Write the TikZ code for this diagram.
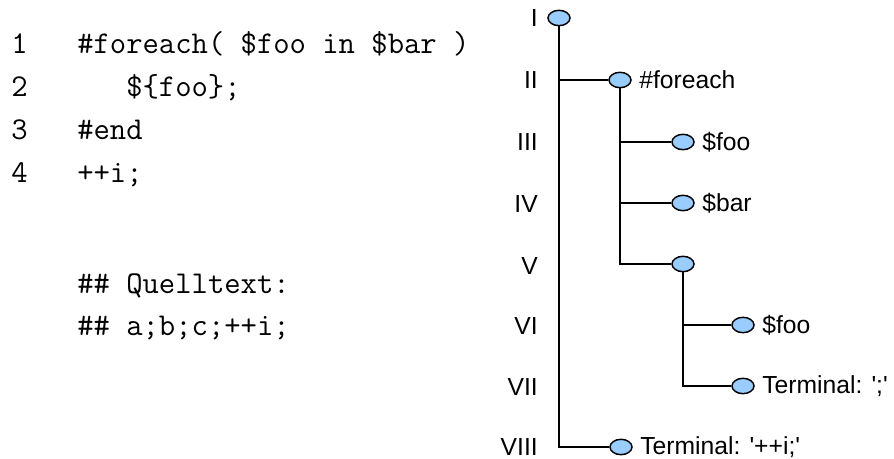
\documentclass[tikz,border=0pt]{standalone}
\usepackage{fontspec}
\newfontfamily\treefont{Liberation Sans}
\usetikzlibrary{shapes.geometric,positioning}
\definecolor{knotblau}{RGB}{153,204,255}
\tikzset{
  knoten/.style={ellipse,draw=black,fill=knotblau,line width=1.1pt,
    minimum width=16.5pt,minimum height=11.5pt,inner sep=0pt},
  kante/.style={line width=1.1pt},
  etikett/.style={font=\treefont\fontsize{18.5}{21}\selectfont,inner sep=1.5pt},
  ebene/.style={font=\treefont\fontsize{18.5}{21}\selectfont,anchor=east,inner sep=0pt},
  code/.style={font=\ttfamily\fontsize{23.8}{28}\selectfont,anchor=base west,inner sep=0pt}
}
\begin{document}
\begin{tikzpicture}[x=0.75pt,y=-0.75pt]
  \useasboundingbox (0,0) rectangle (894,459);
  % Quelltext links
  \node[code] (nr1) at (11,54) {1};
  \node[code] (nr2) at (11,97) {2};
  \node[code] (nr3) at (11,140) {3};
  \node[code] (nr4) at (11,183) {4};
  \node[code] (z1) at (77,54) {\#foreach( \$foo in \$bar )};
  \node[code] (z2) at (126,97) {\$\{foo\};};
  \node[code] (z3) at (77,140) {\#end};
  \node[code] (z4) at (77,183) {++i;};
  \node[code] (q1) at (77,294) {\#\# Quelltext:};
  \node[code] (q2) at (77,336) {\#\# a;b;c;++i;};
  % Ebenen
  \node[ebene] (e1) at (538,18) {I};
  \node[ebene] (e2) at (538,80) {II};
  \node[ebene] (e3) at (538,142) {III};
  \node[ebene] (e4) at (538,204) {IV};
  \node[ebene] (e5) at (538,266) {V};
  \node[ebene] (e6) at (538,326) {VI};
  \node[ebene] (e7) at (538,387) {VII};
  \node[ebene] (e8) at (538,447) {VIII};
  % Knoten
  \node[knoten] (n1) at (559,18) {};
  \node[knoten] (n2) at (620,80) {};
  \node[knoten] (n3) at (683,142) {};
  \node[knoten] (n4) at (683,203) {};
  \node[knoten] (n5) at (683,264) {};
  \node[knoten] (n6) at (743,325) {};
  \node[knoten] (n7) at (743,386) {};
  \node[knoten] (n8) at (621,447) {};
  % Kanten
  \draw[kante] (n1) |- (n8);
  \draw[kante] (n1) |- (n2);
  \draw[kante] (n2) |- (n3);
  \draw[kante] (n2) |- (n4);
  \draw[kante] (n2) |- (n5);
  \draw[kante] (n5) |- (n6);
  \draw[kante] (n5) |- (n7);
  % Beschriftungen
  \node[etikett,right=4pt of n2] (t2) {\#foreach};
  \node[etikett,right=4pt of n3] (t3) {\$foo};
  \node[etikett,right=4pt of n4] (t4) {\$bar};
  \node[etikett,right=4pt of n6] (t6) {\$foo};
  \node[etikett,right=4pt of n7] (t7) {Terminal: \textquotesingle;\textquotesingle};
  \node[etikett,right=4pt of n8] (t8) {Terminal: \textquotesingle++i;\textquotesingle};
\end{tikzpicture}
\end{document}
